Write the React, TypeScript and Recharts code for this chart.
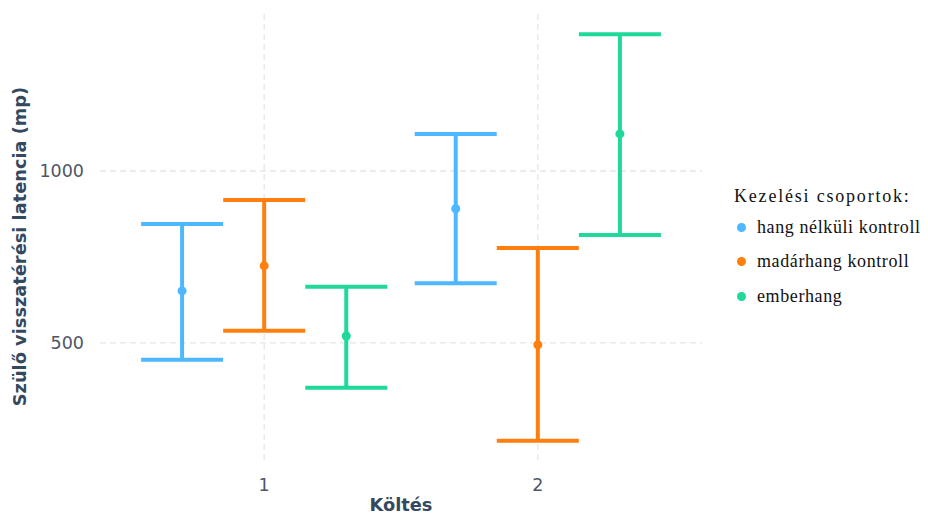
import {
  ScatterChart,
  Scatter,
  XAxis,
  YAxis,
  CartesianGrid,
  ErrorBar,
  Legend
} from 'recharts';

// Költés (brood) categories on the x axis
const broods = [1, 2];

// treatment groups and their colours
const groupNames = ['hang nélküli kontroll', 'madárhang kontroll', 'emberhang'];
const groupColors = ['#4db8ff', '#ff7f0e', '#1fd89a'];

// mean and interval ends per group, one value per brood
const silentMean = [651, 890];
const silentLow = [451, 673];
const silentHigh = [846, 1108];

const birdMean = [724, 494];
const birdLow = [535, 215];
const birdHigh = [916, 776];

const humanMean = [520, 1108];
const humanLow = [369, 814];
const humanHigh = [663, 1398];

const yTicks = [500, 1000];

const groupValues = [
  { mean: silentMean, low: silentLow, high: silentHigh },
  { mean: birdMean, low: birdLow, high: birdHigh },
  { mean: humanMean, low: humanLow, high: humanHigh }
];

// position_dodge offsets
const dodge = [-0.3, 0, 0.3];

const seriesData = groupValues.map((g, gi) =>
  broods.map((b, i) => ({
    x: b + dodge[gi],
    y: g.mean[i],
    err: [g.mean[i] - g.low[i], g.high[i] - g.mean[i]]
  }))
);

const tickStyle = { fill: '#4d5666', fontSize: 17.5, fontFamily: 'DejaVu Sans' };
const titleStyle = {
  fill: '#34495e',
  fontSize: 17.8,
  fontWeight: 'bold',
  fontFamily: 'DejaVu Sans'
};

function YTitle({ viewBox }: any) {
  const x = viewBox.x + 19;
  const y = viewBox.y + viewBox.height / 2 + 9;
  return (
    <text
      x={x}
      y={y}
      transform={`rotate(-90, ${x}, ${y})`}
      textAnchor="middle"
      dominantBaseline="central"
      style={titleStyle}
    >
      Szülő visszatérési latencia (mp)
    </text>
  );
}

function LegendBox() {
  return (
    <div style={{ fontFamily: '"Liberation Serif", serif', color: '#111', fontSize: 18 }}>
      <div style={{ height: 27, lineHeight: '27px', letterSpacing: 1.8 }}>Kezelési csoportok:</div>
      {groupNames.map((name, i) => (
        <div
          key={name}
          style={{ height: 34.5, display: 'flex', alignItems: 'center', letterSpacing: 0.6 }}
        >
          <span
            style={{
              display: 'inline-block',
              width: 9,
              height: 9,
              borderRadius: '50%',
              background: groupColors[i],
              marginLeft: 3,
              marginRight: 11
            }}
          />
          <span>{name}</span>
        </div>
      ))}
    </div>
  );
}

export default function App() {
  return (
    <div style={{ position: 'absolute', left: 0, top: 0, background: '#fff' }}>
      <ScatterChart width={928} height={524} margin={{ top: 14, right: 226, bottom: 0, left: 0 }}>
        <CartesianGrid stroke="#e6e6e6" strokeDasharray="6 4" strokeWidth={1.3} syncWithTicks />
        <XAxis
          type="number"
          dataKey="x"
          domain={[0.4, 2.6]}
          ticks={broods}
          axisLine={false}
          tickLine={false}
          height={63}
          tick={tickStyle}
          tickMargin={12}
          label={{ value: 'Költés', position: 'insideBottom', offset: 13, style: titleStyle }}
        />
        <YAxis
          type="number"
          dataKey="y"
          domain={[156, 1457]}
          ticks={yTicks}
          allowDataOverflow
          axisLine={false}
          tickLine={false}
          width={100}
          tick={tickStyle}
          tickMargin={10}
          label={{ content: YTitle }}
        />
        <Legend
          layout="vertical"
          align="center"
          verticalAlign="middle"
          content={() => <LegendBox />}
          wrapperStyle={{ left: 734, top: 183, width: 194 }}
        />
        {seriesData.map((data, gi) => (
          <Scatter
            key={groupNames[gi]}
            name={groupNames[gi]}
            data={data}
            fill={groupColors[gi]}
            isAnimationActive={false}
          >
            <ErrorBar
              dataKey="err"
              direction="y"
              width={41}
              stroke={groupColors[gi]}
              strokeWidth={4}
              isAnimationActive={false}
            />
          </Scatter>
        ))}
      </ScatterChart>
    </div>
  );
}
